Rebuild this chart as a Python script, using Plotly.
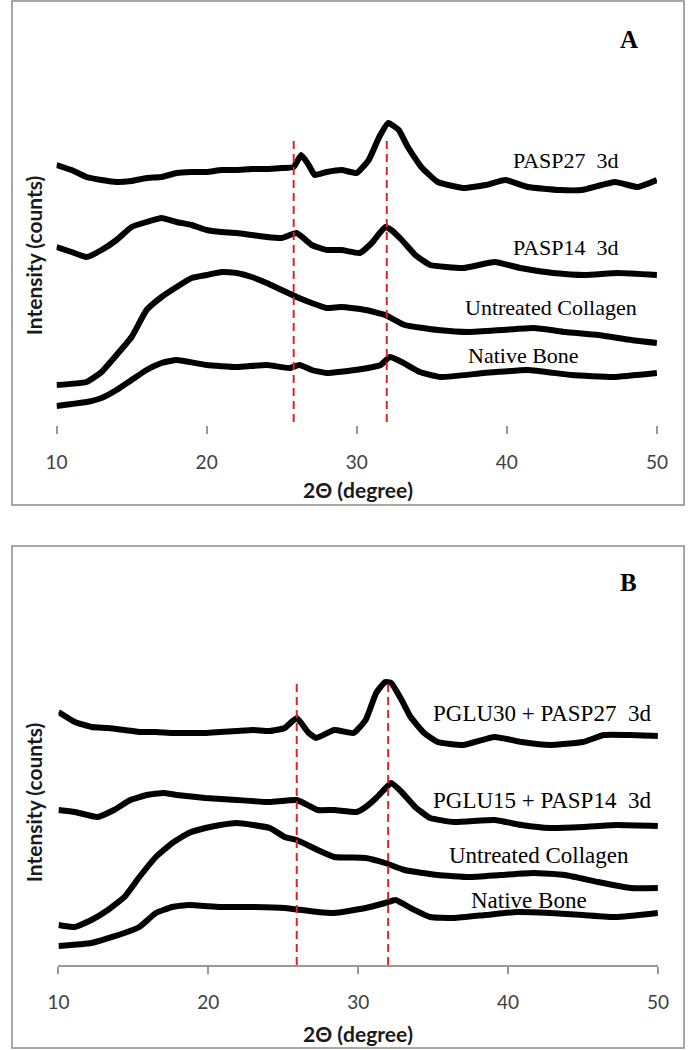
import plotly.graph_objects as go

W, H = 697, 1050

# ---------------- Panel A data (2θ in degree, intensity in offset counts) ----------------
a_pasp27_x = [10, 11, 12, 13, 14, 15, 16, 17, 18, 19, 20, 21, 22, 23, 24, 25, 25.8, 26.3, 26.8, 27.2,
              28, 29, 30, 30.8, 31.5, 32.1, 32.8, 33.4, 34.3, 35.4, 37.1, 38.6, 39.9, 41.4, 43.5, 45,
              47.2, 48.7, 50]
a_pasp27_y = [260, 255, 248, 245, 243, 244, 247, 248, 252, 253, 253, 255, 255, 256, 256, 257, 258, 270, 260, 250,
              253, 255, 252, 265, 288, 302, 295, 278, 258, 243, 237, 240, 245, 238, 235, 235,
              243, 238, 245]

a_pasp14_x = [10, 11, 12, 13, 14, 15, 16, 17, 18, 19, 20, 21, 22, 23, 24, 25, 26, 27, 28, 29, 30.2, 31,
              31.9, 32.3, 33, 33.9, 34.9, 37.1, 39.2, 40.9, 43.1, 45.2, 47.4, 50]
a_pasp14_y = [178, 173, 168, 175, 185, 198, 203, 207, 203, 200, 195, 193, 192, 190, 188, 187, 192, 180, 175, 175, 172, 182,
              198, 195, 185, 170, 160, 157, 163, 157, 152, 150, 152, 150]

a_coll_x = [10, 12, 13, 14, 15, 16, 17, 18, 19, 20, 21, 22, 23, 24, 25, 26, 27, 28, 29, 30.6, 31.9, 33.2,
            35.4, 37.5, 39.7, 41.8, 43.9, 46.1, 48.3, 50]
a_coll_y = [40, 43, 53, 70, 88, 115, 128, 138, 147, 150, 153, 152, 148, 142, 135, 128, 122, 117, 118, 115, 110, 100,
            95, 93, 95, 97, 93, 90, 85, 82]

a_bone_x = [10, 11, 12, 13, 14, 15, 16, 17, 18, 20, 22, 24, 25.5, 26.2, 27, 28, 29.9, 31.6, 32.2, 33,
            34.2, 35.6, 38.5, 41.4, 44.3, 47.1, 50]
a_bone_y = [19, 21, 23, 27, 35, 45, 55, 62, 65, 60, 58, 60, 57, 60, 55, 52, 55, 60, 68, 63,
            53, 48, 52, 55, 50, 48, 52]

# ---------------- Panel B data ----------------
b_pglu30_x = [10, 11.1, 12.2, 13.3, 14.4, 15.4, 16.5, 17.6, 18.7, 19.8, 20.8, 21.9, 23, 24.1, 25.1,
              25.9, 26.7, 27.2, 28.4, 29.7, 30.5, 31.2, 31.8, 32.2, 32.9, 33.5, 34.4, 35.3, 37, 39.1,
              40.9, 42.8, 45, 46.4, 48.2, 50]
b_pglu30_y = [253, 243, 238, 237, 235, 233, 233, 232, 232, 232, 233, 234, 235, 234, 237,
              247, 232, 227, 235, 232, 245, 272, 283, 282, 265, 248, 232, 223, 220, 228,
              223, 220, 223, 230, 230, 229]

b_pglu15_x = [10, 11.1, 12.6, 13.7, 14.8, 15.9, 17, 17.9, 19.8, 21.9, 24.1, 25.9, 27.3, 28.4, 29.9, 30.5,
              31.2, 31.9, 32.2, 32.9, 33.8, 34.8, 36.4, 39.1, 40.9, 42.8, 45, 47.2, 50]
b_pglu15_y = [155, 153, 148, 155, 165, 170, 172, 170, 167, 165, 163, 165, 155, 155, 153, 158,
              167, 178, 182, 173, 158, 147, 143, 145, 140, 137, 138, 140, 139]

b_coll_x = [10, 11.1, 12.2, 13.3, 14.4, 15.4, 16.5, 17.6, 18.7, 19.8, 20.8, 21.9, 23, 24.1, 25.1, 25.9,
            27.3, 28.4, 30.5, 31.8, 33.1, 35.3, 37.4, 39.5, 41.7, 43.8, 46, 48.2, 50]
b_coll_y = [40, 38, 45, 55, 68, 88, 108, 122, 132, 137, 140, 142, 140, 137, 128, 125,
            115, 108, 107, 102, 95, 90, 88, 90, 92, 90, 83, 77, 77]

b_bone_x = [10, 12.2, 14.4, 15.4, 16.5, 17.6, 18.7, 20.8, 23, 25.1, 27.3, 28.4, 30.5, 31.8, 32.5, 33.5,
            34.8, 36.4, 38.5, 40.6, 42.8, 45, 47.2, 50]
b_bone_y = [19, 22, 32, 38, 52, 58, 60, 58, 58, 57, 53, 52, 57, 62, 65, 57,
            48, 47, 50, 53, 52, 50, 48, 52]

# reference peak positions (dashed lines)
a_peaks = [25.8, 32.0]
b_peaks = [25.9, 32.0]

tick_vals = [10, 20, 30, 40, 50]
tick_text = ["10", "20", "30", "40", "50"]

a_labels = ["PASP27\u00a0\u00a03d", "PASP14\u00a0\u00a03d", "Untreated Collagen", "Native Bone"]
b_labels = ["PGLU30 + PASP27\u00a0\u00a03d", "PGLU15 + PASP14\u00a0\u00a03d", "Untreated Collagen", "Native Bone"]

# ---------------- helpers (pixel -> paper) ----------------
def px(x):
    return x / W

def py(y):
    return 1 - y / H

fig = go.Figure()

line_style = dict(color="black", width=6, shape="spline", smoothing=0.4)

for xs, ys in [(a_pasp27_x, a_pasp27_y), (a_pasp14_x, a_pasp14_y), (a_coll_x, a_coll_y), (a_bone_x, a_bone_y)]:
    fig.add_trace(go.Scatter(x=xs, y=ys, mode="lines", line=line_style, xaxis="x", yaxis="y",
                             showlegend=False, hoverinfo="skip"))
for xs, ys in [(b_pglu30_x, b_pglu30_y), (b_pglu15_x, b_pglu15_y), (b_coll_x, b_coll_y), (b_bone_x, b_bone_y)]:
    fig.add_trace(go.Scatter(x=xs, y=ys, mode="lines", line=line_style, xaxis="x2", yaxis="y2",
                             showlegend=False, hoverinfo="skip"))

tick_font = dict(family="Lato, 'Open Sans', sans-serif", size=19, color="#404040")

fig.update_layout(
    width=W, height=H,
    margin=dict(l=0, r=0, t=0, b=0),
    paper_bgcolor="white", plot_bgcolor="white",
    xaxis=dict(domain=[px(47), px(667)], range=[10, 50], anchor="y",
               tickvals=tick_vals, ticktext=tick_text, ticks="outside", ticklen=8, tickwidth=1.5,
               tickcolor="#9a9a9a", showline=False, showgrid=False, zeroline=False,
               tickfont=tick_font, ticklabelstandoff=12),
    yaxis=dict(domain=[py(425), py(25)], range=[0, 400], anchor="x",
               showticklabels=False, showgrid=False, zeroline=False, showline=False, ticks=""),
    xaxis2=dict(domain=[px(49), px(668)], range=[10, 50], anchor="y2",
                tickvals=tick_vals, ticktext=tick_text, ticks="outside", ticklen=7, tickwidth=1.5,
                tickcolor="#9a9a9a", showline=True, linecolor="#9a9a9a", linewidth=1.5,
                showgrid=False, zeroline=False, tickfont=tick_font, ticklabelstandoff=12),
    yaxis2=dict(domain=[py(965), py(565)], range=[0, 400], anchor="x2",
                showticklabels=False, showgrid=False, zeroline=False, showline=False, ticks=""),
)

shapes = []
# panel borders
shapes.append(dict(type="rect", xref="paper", yref="paper", x0=px(1), x1=px(695), y0=py(505), y1=py(1),
                   line=dict(color="#8c8c8c", width=1.5)))
shapes.append(dict(type="rect", xref="paper", yref="paper", x0=px(1), x1=px(695), y0=py(1048), y1=py(546),
                   line=dict(color="#8c8c8c", width=1.5)))
# dashed reference lines
for p in a_peaks:
    shapes.append(dict(type="line", xref="x", yref="y", x0=p, x1=p, y0=3, y1=288, layer="above",
                       line=dict(color="#d9262b", width=2, dash="8px,5px")))
for p in b_peaks:
    shapes.append(dict(type="line", xref="x2", yref="y2", x0=p, x1=p, y0=0, y1=286, layer="above",
                       line=dict(color="#d9262b", width=2, dash="8px,5px")))
fig.update_layout(shapes=shapes)

serif = "'Liberation Serif', 'Times New Roman', serif"
title_family = "Lato, 'Open Sans', sans-serif"
ann = []
# panel letters
ann.append(dict(text="<b>A</b>", x=px(638), y=py(40), font=dict(family=serif, size=25, color="black")))
ann.append(dict(text="<b>B</b>", x=px(638), y=py(582), font=dict(family=serif, size=25, color="black")))
# series labels
a_pos = [(573, 160), (573, 248), (558, 307), (529, 355)]
b_pos = [(548, 713), (548, 800), (545, 855), (535, 900)]
for t, (x, y) in zip(a_labels, a_pos):
    ann.append(dict(text=t, x=px(x), y=py(y), font=dict(family=serif, size=22, color="black")))
for t, (x, y) in zip(b_labels, b_pos):
    ann.append(dict(text=t, x=px(x), y=py(y), font=dict(family=serif, size=23, color="black")))
# axis titles
for (x, y) in [(358, 489), (358, 1033)]:
    ann.append(dict(text="<b>2\u0398 (degree)</b>", x=px(x), y=py(y),
                    font=dict(family=title_family, size=21, color="#1a1a1a")))
for (x, y) in [(23, 255), (23, 802)]:
    ann.append(dict(text="<b>Intensity (counts)</b>", x=px(x), y=py(y), textangle=-90,
                    font=dict(family=title_family, size=21, color="#1a1a1a")))

for a in ann:
    a.update(xref="paper", yref="paper", showarrow=False, xanchor="center", yanchor="middle")
fig.update_layout(annotations=ann)

# remove the default page margin so the figure sits at the window's top-left corner
fig.write_html("out.html",
               config={"displayModeBar": False},
               post_script="document.body.style.margin='0';document.body.style.overflow='hidden';")
